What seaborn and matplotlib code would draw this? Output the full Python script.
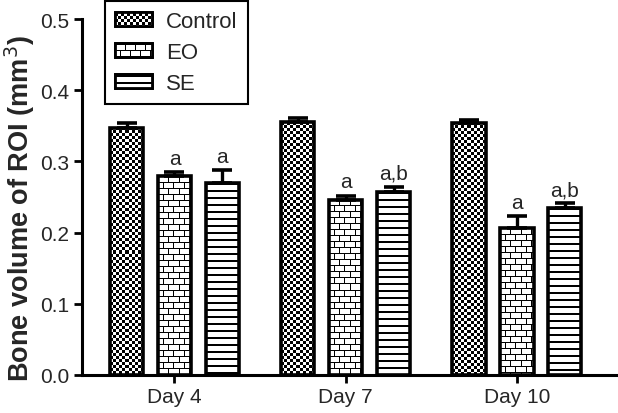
import numpy as np
import pandas as pd
import matplotlib
matplotlib.use("Agg")
import matplotlib.pyplot as plt
import seaborn as sns

# data
days = ["Day 4", "Day 7", "Day 10"]
groups = ["Control", "EO", "SE"]
control = [0.347, 0.355, 0.354]
eo = [0.279, 0.246, 0.206]
se = [0.269, 0.257, 0.234]
control_err = [0.007, 0.006, 0.004]
eo_err = [0.006, 0.006, 0.017]
se_err = [0.019, 0.007, 0.007]
labels_eo = ["a", "a", "a"]
labels_se = ["a", "a,b", "a,b"]

df = pd.DataFrame({
    "day": days * 3,
    "group": [g for g in groups for _ in days],
    "volume": control + eo + se,
})
errs = [control_err, eo_err, se_err]
marks = [None, labels_eo, labels_se]

sns.set_style("ticks")
plt.rcParams["font.family"] = ["Liberation Sans", "DejaVu Sans"]

fig = plt.figure(figsize=(6.18, 4.14), dpi=100)
ax = fig.add_axes([82 / 618, 38 / 414, 536 / 618, 356 / 414])

sns.barplot(data=df, x="day", y="volume", hue="group", hue_order=groups,
            order=days, palette=["white"] * 3, edgecolor="black", linewidth=2.6,
            width=0.84, gap=0.31, errorbar=None, ax=ax, legend=True)

ax.set_xlim(-0.54, 2.59)
ax.set_ylim(0, 0.5)


# pixel patterns
def checker(h, w):
    yy, xx = np.mgrid[0:h, 0:w]
    return np.where(((yy // 3) + (xx // 3)) % 2 == 0, 0.0, 1.0)


def bricks(h, w):
    arr = np.ones((h, w))
    yy, xx = np.mgrid[0:h, 0:w]
    row = yy // 6
    arr[yy % 6 == 0] = 0.0
    shift = (row % 2) * 5
    arr[((xx + shift) % 10 == 0)] = 0.0
    return arr


def stripes(h, w):
    arr = np.ones((h, w))
    yy = np.arange(h)
    arr[(yy % 7) < 2, :] = 0.0
    return arr


patterns = [checker, bricks, stripes]
bar_conts = list(ax.containers)

for gi, cont in enumerate(bar_conts):
    for bar in cont:
        bar.set_facecolor("none")
        bar.set_zorder(3)
        x0, y0 = bar.get_x(), bar.get_y()
        x1, y1 = x0 + bar.get_width(), y0 + bar.get_height()
        (px0, py0), (px1, py1) = ax.transData.transform([(x0, y0), (x1, y1)])
        w = max(int(round(px1 - px0)), 1)
        h = max(int(round(py1 - py0)), 1)
        ax.imshow(patterns[gi](h, w), extent=(x0, x1, y0, y1), origin="upper",
                  cmap="gray", vmin=0, vmax=1, interpolation="nearest",
                  aspect="auto", clip_path=bar, zorder=2)
    xs = [b.get_x() + b.get_width() / 2 for b in cont]
    hs = [b.get_height() for b in cont]
    ax.errorbar(xs, hs, yerr=[np.zeros(3), errs[gi]], fmt="none", ecolor="black",
                elinewidth=2.4, capsize=7, capthick=2.6, zorder=4)
    if marks[gi] is not None:
        for x, h, e, t in zip(xs, hs, errs[gi], marks[gi]):
            ax.annotate(t, (x, h + e), xytext=(0, 6), textcoords="offset points",
                        ha="center", va="baseline", fontsize=15)

ax.set_xlim(-0.54, 2.59)
ax.set_ylim(0, 0.5)
ax.set_yticks(np.arange(0, 0.51, 0.1))
ax.yaxis.set_major_formatter(matplotlib.ticker.FormatStrFormatter("%.1f"))
ax.set_xlabel("")
ax.set_ylabel("Bone volume of ROI (mm$^3$)", fontsize=19.5, fontweight="bold", labelpad=2)
ax.yaxis.label.set_y(0.47)
ax.tick_params(axis="both", labelsize=15, width=2, length=6, color="black", pad=3)
sns.despine(ax=ax)
for s in ["left", "bottom"]:
    ax.spines[s].set_linewidth(2.2)
    ax.spines[s].set_color("black")

leg = ax.legend(loc="upper left", bbox_to_anchor=(23 / 536, 1 + 18 / 356),
                borderaxespad=0, fontsize=16,
                frameon=True, fancybox=False, edgecolor="black", framealpha=1,
                handlelength=1.65, handleheight=0.55, labelspacing=0.45,
                borderpad=0.45, handletextpad=0.65)
leg.get_frame().set_linewidth(1.5)
leg.set_zorder(5)

fig.canvas.draw()
for gi, hnd in enumerate(leg.legend_handles):
    hnd.set_facecolor("white")
    hnd.set_linewidth(2)
    bb = hnd.get_window_extent()
    w, h = int(round(bb.width)), int(round(bb.height))
    fig.figimage(patterns[gi](h, w), xo=int(round(bb.x0)), yo=int(round(bb.y0)),
                 cmap="gray", vmin=0, vmax=1, origin="upper", zorder=10)
    fig.add_artist(plt.Rectangle((bb.x0, bb.y0), bb.width, bb.height, transform=None,
                                 fill=False, edgecolor="black", linewidth=2, zorder=11))

fig.savefig("out.png", dpi=100)
